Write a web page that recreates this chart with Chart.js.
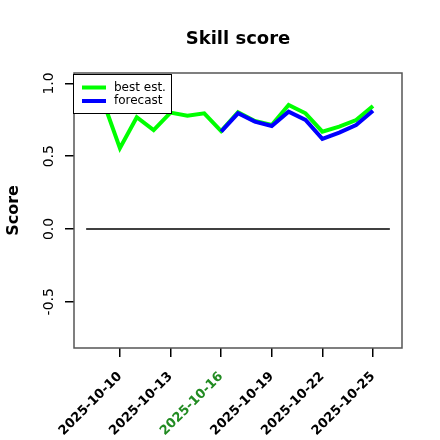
<!DOCTYPE html>
<html>
<head>
<meta charset="utf-8">
<script src="https://cdn.jsdelivr.net/npm/chart.js@4.4.1/dist/chart.umd.min.js"></script>
<style>
  body { margin: 0; background: #fff; }
</style>
</head>
<body>
<canvas id="skillChart" width="440" height="440"></canvas>
<script>
// days on the x axis (index = position on the linear scale)
var dates = ['2025-10-08', '2025-10-09', '2025-10-10', '2025-10-11', '2025-10-12',
             '2025-10-13', '2025-10-14', '2025-10-15', '2025-10-16', '2025-10-17',
             '2025-10-18', '2025-10-19', '2025-10-20', '2025-10-21', '2025-10-22',
             '2025-10-23', '2025-10-24', '2025-10-25', '2025-10-26'];
var bestEst = [0.87, 0.88, 0.555, 0.768, 0.68, 0.80, 0.779, 0.795, 0.673, 0.802,
               0.742, 0.715, 0.852, 0.795, 0.669, 0.703, 0.749, 0.845, null];
var forecast = [null, null, null, null, null, null, null, null, 0.669, 0.795,
                0.738, 0.708, 0.806, 0.749, 0.619, 0.662, 0.715, 0.813, null];
var zeroLine = [0, 0];
var zeroDates = ['2025-10-08', '2025-10-26'];
var tickDates = ['2025-10-10', '2025-10-13', '2025-10-16', '2025-10-19', '2025-10-22', '2025-10-25'];
var highlightDate = '2025-10-16';
var yTicks = [-0.5, 0, 0.5, 1];

function toPoints(values, days) {
    return values.map(function (v, i) {
        return { x: dates.indexOf(days[i]), y: v };
    });
}

document.addEventListener("DOMContentLoaded", function () {
    var ctx = document.getElementById("skillChart").getContext("2d");

    // box, rotated y tick labels and the legend are drawn here
    var decorations = {
        id: 'decorations',
        afterDraw: function (chart) {
            var c = chart.ctx;
            var area = chart.chartArea;
            var ys = chart.scales.y;
            c.save();

            c.strokeStyle = '#555';
            c.lineWidth = 1.5;
            c.strokeRect(area.left, area.top, area.right - area.left, area.bottom - area.top);

            c.fillStyle = '#000';
            c.font = '14px "DejaVu Sans"';
            c.textAlign = 'center';
            c.textBaseline = 'middle';
            yTicks.forEach(function (v) {
                c.save();
                c.translate(49, ys.getPixelForValue(v));
                c.rotate(-Math.PI / 2);
                c.fillText(v.toFixed(1), 0, 0);
                c.restore();
            });

            // legend box
            var lx = 73, ly = 74, lw = 98, lh = 39;
            c.fillStyle = '#fff';
            c.fillRect(lx, ly, lw, lh);
            c.strokeStyle = '#000';
            c.lineWidth = 1;
            c.strokeRect(lx + 0.5, ly + 0.5, lw, lh);

            var entries = chart.data.datasets.filter(function (d) { return d.inLegend; });
            c.font = '12px "DejaVu Sans"';
            c.textAlign = 'left';
            entries.forEach(function (d, i) {
                var y = 87.5 + i * 13.5;
                c.strokeStyle = d.borderColor;
                c.lineWidth = 4;
                c.beginPath();
                c.moveTo(82, y);
                c.lineTo(106, y);
                c.stroke();
                c.fillStyle = '#000';
                c.fillText(d.label, 114, y);
            });
            c.restore();
        }
    };

    new Chart(ctx, {
        type: 'line',
        data: {
            datasets: [{
                label: 'zero',
                data: toPoints(zeroLine, zeroDates),
                borderColor: '#000',
                borderWidth: 1.3,
                pointRadius: 0,
                order: 3,
            }, {
                label: 'best est.',
                data: toPoints(bestEst, dates),
                borderColor: '#00ff00',
                borderWidth: 4,
                pointRadius: 0,
                tension: 0,
                order: 2,
                inLegend: true,
            }, {
                label: 'forecast',
                data: toPoints(forecast, dates),
                borderColor: '#0000ff',
                borderWidth: 4,
                pointRadius: 0,
                tension: 0,
                order: 1,
                inLegend: true,
            }],
        },
        options: {
            responsive: false,
            animation: false,
            layout: { padding: { left: 0, right: 38, top: 0, bottom: 0 } },
            plugins: {
                legend: { display: false },
                tooltip: { enabled: false },
                title: {
                    display: true,
                    text: 'Skill score',
                    fullSize: false,
                    color: '#000',
                    font: { family: 'DejaVu Sans', size: 18, weight: 'bold' },
                    padding: { top: 28.5, bottom: 22.9 },
                },
            },
            scales: {
                x: {
                    type: 'linear',
                    min: -0.72,
                    max: 18.72,
                    afterBuildTicks: function (s) {
                        s.ticks = tickDates.map(function (d) { return { value: dates.indexOf(d) }; });
                    },
                    afterFit: function (s) { s.height = 92; },
                    border: { display: false },
                    grid: { drawOnChartArea: false, tickLength: 9, color: '#000', lineWidth: 1.5 },
                    ticks: {
                        autoSkip: false,
                        minRotation: 45,
                        maxRotation: 45,
                        padding: 12,
                        font: { family: 'DejaVu Sans', size: 13, weight: 'bold' },
                        color: function (c) {
                            return dates[c.tick.value] === highlightDate ? '#228b22' : '#000';
                        },
                        callback: function (v) { return dates[v]; },
                    },
                },
                y: {
                    min: -0.818,
                    max: 1.072,
                    afterBuildTicks: function (s) {
                        s.ticks = yTicks.map(function (v) { return { value: v }; });
                    },
                    afterFit: function (s) { s.width = 74; },
                    border: { display: false },
                    grid: { drawOnChartArea: false, tickLength: 9, color: '#000', lineWidth: 1.5 },
                    ticks: { display: false },
                    title: {
                        display: true,
                        text: 'Score',
                        color: '#000',
                        font: { family: 'DejaVu Sans', size: 16, weight: 'bold' },
                        padding: { top: 4, bottom: 0 },
                    },
                },
            },
        },
        plugins: [decorations],
    });
});
</script>
</body>
</html>
